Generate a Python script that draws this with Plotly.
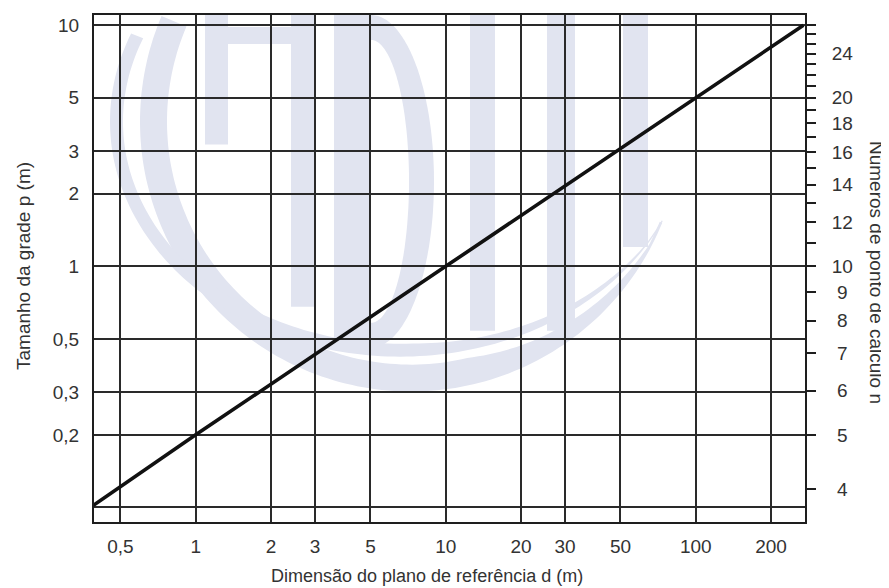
import math
import numpy as np
import plotly.graph_objects as go

# ---- data ----
d_vals = [0.39, 1, 10, 100, 269.5]          # Dimensão do plano de referência d (m)
p_vals = [0.102, 0.2, 1, 5, 10]             # Tamanho da grade p (m)

x_ticks = [0.5, 1, 2, 3, 5, 10, 20, 30, 50, 100, 200]
x_labels = ["0,5", "1", "2", "3", "5", "10", "20", "30", "50", "100", "200"]

y_ticks = [0.1, 0.2, 0.3, 0.5, 1, 2, 3, 5, 10]
y_labels = ["", "0,2", "0,3", "0,5", "1", "2", "3", "5", "10"]

# right axis: número de pontos n (ticks at every integer, labels on some)
n_minor = list(range(4, 28))
n_labeled = [4, 5, 6, 7, 8, 9, 10, 12, 14, 16, 18, 20, 24]
# reference correspondences p -> n read on the right scale
p_ref = [0.2, 1, 5]
n_ref = [5, 10, 20]

# axis extents
x_range = [0.392, 273.5]
y_range = [0.087, 11.03]

FONT = "Liberation Sans, Arial, Helvetica, sans-serif"
INK = "#1e1e1e"
GRID = "#2a2a2a"
TXT = "#333333"
WM = "#e1e4f0"   # faint watermark colour

# page offset of the plot div (browser default body margin)
OFF = 8
W, H = 889 - OFF, 588 - OFF
L, R, T, B = 94 - OFF, 889 - 805, 13 - OFF, 588 - 522
PW, PH = W - L - R, H - T - B


def px_x(page_x):
    return (page_x - OFF - L) / PW


def px_y(page_y):
    return (H - B - (page_y - OFF)) / PH


def path_from(points):
    s = "M " + " L ".join(f"{px_x(x):.4f},{px_y(y):.4f}" for x, y in points)
    return s + " Z"


def arc_band(cx, cy, rx, ry, thick, a0, a1, taper=0.0, ymin=13):
    angs = np.linspace(math.radians(a0), math.radians(a1), 140)
    outer, inner = [], []
    nA = len(angs)
    for i, a in enumerate(angs):
        t = thick
        if taper > 0:
            frac = i / (nA - 1)
            if frac > 1 - taper:
                t = thick * max(0.1, (1 - frac) / taper)
        ox, oy = cx + rx * math.cos(a), cy + ry * math.sin(a)
        ix, iy = cx + (rx - t) * math.cos(a), cy + (ry - t) * math.sin(a)
        outer.append((ox, max(oy, ymin)))
        inner.append((ix, max(iy, ymin)))
    return path_from(outer + inner[::-1])


# scale of the right axis: log n linear in log p
k = (math.log10(n_ref[2]) - math.log10(n_ref[0])) / (math.log10(p_ref[2]) - math.log10(p_ref[0]))
c = math.log10(n_ref[1]) - k * math.log10(p_ref[1])
y2_range = [c + k * math.log10(y_range[0]), c + k * math.log10(y_range[1])]

n_text = []
for n in n_minor:
    if n in n_labeled:
        s = str(n)
        n_text.append(("\u00a0" + s) if len(s) == 1 else s)
    else:
        n_text.append("")

# ---- faint watermark (decoration, drawn below the grid) ----
wm_shapes = []
wm_paths = [
    arc_band(411, 120, 271, 271, 27, 203, 22, taper=0.3),    # thick ring
    arc_band(400, 120, 290, 236, 13, 202, 25, taper=0.35),   # thin ring
    arc_band(371, 180, 63, 167, 25, -90, 90),                # bowl of the B
]
for pth in wm_paths:
    wm_shapes.append(dict(type="path", path=pth, xref="paper", yref="paper",
                          fillcolor=WM, line=dict(width=0), layer="below"))
wm_rects = [
    (205, 228, 13, 143),   # A left stem
    (205, 316, 25, 42),    # A top bar
    (291, 316, 13, 306),   # A right stem
    (334, 371, 13, 346),   # B stem
    (470, 495, 13, 330),   # N left stem
    (547, 575, 13, 330),   # N right stem
    (623, 648, 13, 246),   # T stem
]
for x0, x1, y0, y1 in wm_rects:
    wm_shapes.append(dict(type="rect", xref="paper", yref="paper",
                          x0=px_x(x0), x1=px_x(x1), y0=px_y(y1), y1=px_y(y0),
                          fillcolor=WM, line=dict(width=0), layer="below"))

fig = go.Figure()
fig.add_trace(go.Scatter(x=d_vals, y=p_vals, mode="lines",
                         line=dict(color="#111111", width=3.6),
                         showlegend=False, hoverinfo="skip", cliponaxis=True))
# invisible trace to activate the right axis
fig.add_trace(go.Scatter(x=[d_vals[1]], y=[n_ref[1]], yaxis="y2", mode="markers",
                         marker=dict(opacity=0), showlegend=False, hoverinfo="skip"))

tick_font = dict(family=FONT, size=19, color=TXT)

fig.update_layout(
    width=W, height=H,
    margin=dict(l=L, r=R, t=T, b=B),
    paper_bgcolor="white", plot_bgcolor="white",
    font=dict(family=FONT, size=19, color=TXT),
    shapes=wm_shapes,
    xaxis=dict(type="log", range=[math.log10(x_range[0]), math.log10(x_range[1])],
               tickmode="array", tickvals=x_ticks, ticktext=x_labels,
               showgrid=True, gridcolor=GRID, gridwidth=1.5,
               showline=True, linecolor=INK, linewidth=2, mirror=True,
               ticks="", ticklabelstandoff=6, zeroline=False,
               tickfont=tick_font),
    yaxis=dict(type="log", range=[math.log10(y_range[0]), math.log10(y_range[1])],
               tickmode="array", tickvals=y_ticks, ticktext=y_labels,
               showgrid=True, gridcolor=GRID, gridwidth=1.5,
               showline=True, linecolor=INK, linewidth=2, mirror=True,
               ticks="", ticklabelstandoff=9, zeroline=False,
               tickfont=tick_font),
    yaxis2=dict(type="log", overlaying="y", side="right", range=y2_range,
                tickmode="array", tickvals=n_minor, ticktext=n_text,
                showgrid=False, showline=True, linecolor=INK, linewidth=2,
                ticks="outside", ticklen=9, tickwidth=1.5, tickcolor=INK,
                ticklabelstandoff=12, zeroline=False,
                tickfont=tick_font),
    annotations=[
        dict(text="Dimensão do plano de referência d (m)", xref="paper", yref="paper",
             x=px_x(427), y=px_y(576), xanchor="center", yanchor="middle",
             showarrow=False, font=dict(family=FONT, size=18, color=TXT)),
        dict(text="Tamanho da grade p (m)", xref="paper", yref="paper",
             x=px_x(23), y=px_y(265), xanchor="center", yanchor="middle",
             textangle=-90, showarrow=False, font=dict(family=FONT, size=19, color=TXT)),
        dict(text="Números de ponto de cálculo n", xref="paper", yref="paper",
             x=px_x(876), y=px_y(271), xanchor="center", yanchor="middle",
             textangle=90, showarrow=False, font=dict(family=FONT, size=19, color=TXT)),
    ],
)

fig.write_html("out.html")
